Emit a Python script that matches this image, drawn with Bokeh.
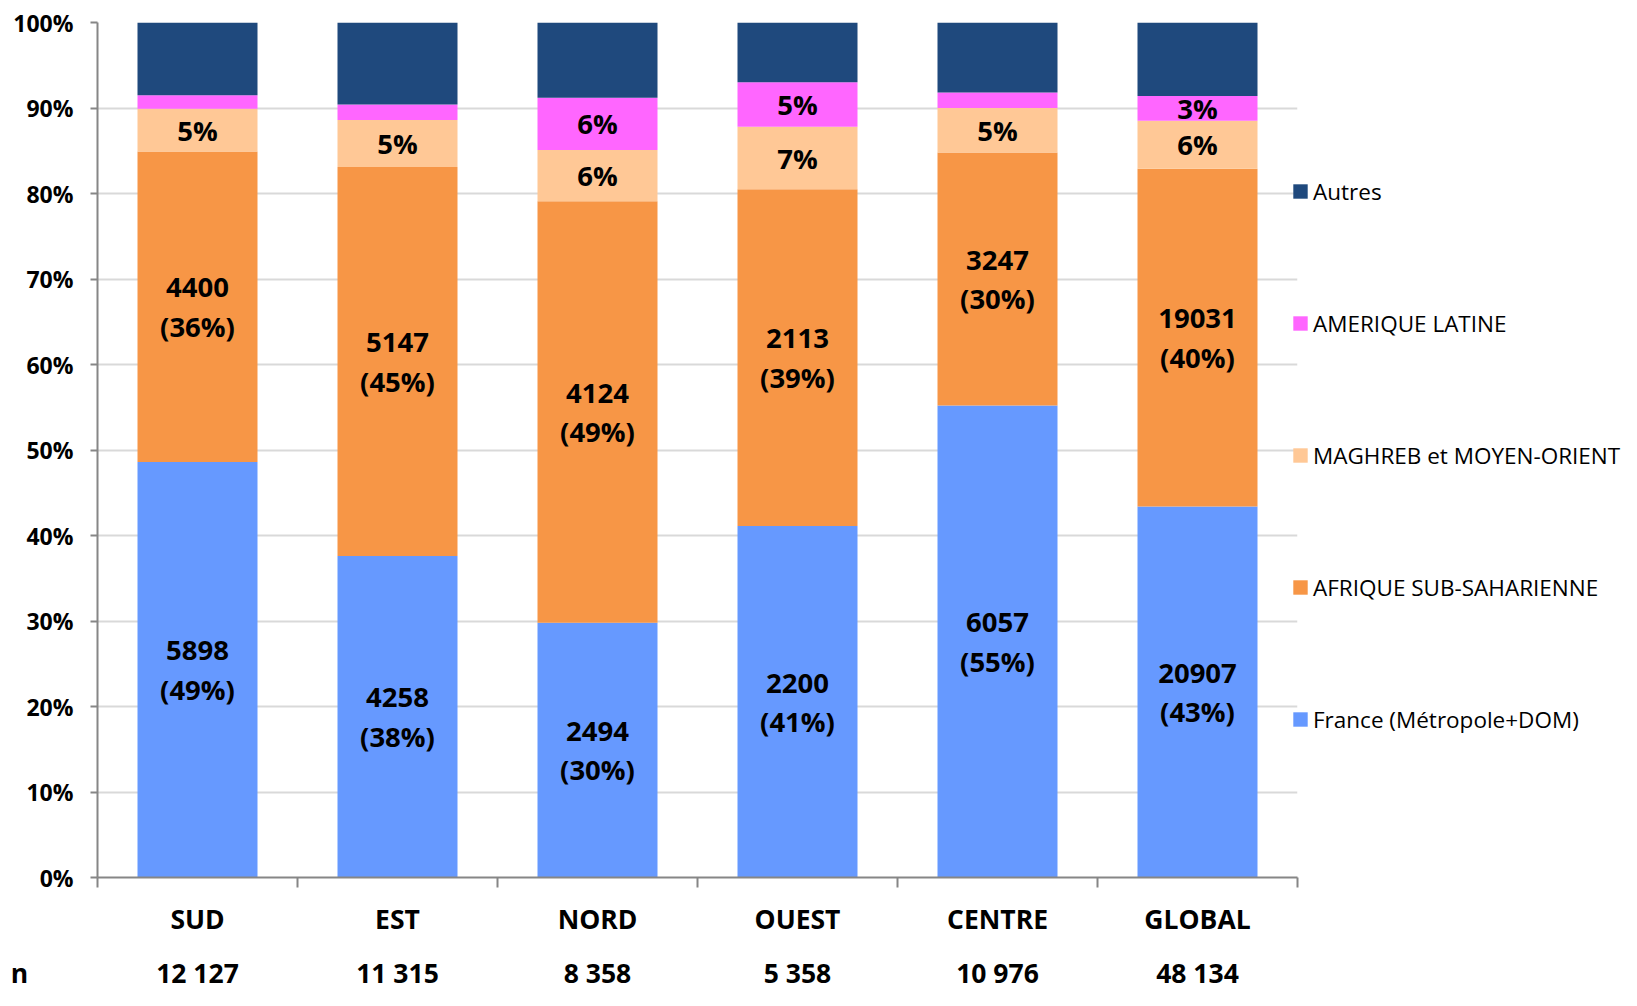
from bokeh.plotting import figure
from bokeh.models import (ColumnDataSource, Range1d, FixedTicker, LinearAxis,
                          Legend, LegendItem)
from bokeh.layouts import column
from bokeh.core.properties import value
from bokeh.embed import file_html
from bokeh.resources import INLINE
import numpy as np

# ---------------- data ----------------
categories = ["SUD", "EST", "NORD", "OUEST", "CENTRE", "GLOBAL"]
n_label = "n"
n_totals = ["12 127", "11 315", "8 358", "5 358", "10 976", "48 134"]

series_names = ["France (Métropole+DOM)", "AFRIQUE SUB-SAHARIENNE",
                "MAGHREB et MOYEN-ORIENT", "AMERIQUE LATINE", "Autres"]

france = [48.6, 37.6, 29.8, 41.1, 55.2, 43.4]
afrique = [36.3, 45.5, 49.3, 39.4, 29.6, 39.5]
maghreb = [5.0, 5.5, 6.0, 7.3, 5.2, 5.6]
amerique = [1.6, 1.8, 6.1, 5.2, 1.8, 2.9]
autres = [8.5, 9.6, 8.8, 7.0, 8.2, 8.6]

france_n = [5898, 4258, 2494, 2200, 6057, 20907]
afrique_n = [4400, 5147, 4124, 2113, 3247, 19031]
france_pct = [49, 38, 30, 41, 55, 43]
afrique_pct = [36, 45, 49, 39, 30, 40]
maghreb_lbl = ["5%", "5%", "6%", "7%", "5%", "6%"]
amerique_lbl = ["", "", "6%", "5%", "", "3%"]

colors = ["#6699FF", "#F79646", "#FFC896", "#FF66FF", "#1F497D"]
y_ticks = list(range(0, 101, 10))

# ---------------- layout constants ----------------
FONT = "Open Sans"
TOTAL_W = 1621
LEFT = 97
FRAME_W = 1200
TOP = 22
FRAME_H = 855
MAIN_BOTTOM = 70
STRIP_H = 990 - TOP - FRAME_H - MAIN_BOTTOM

ncat = len(categories)
unit_px = FRAME_W / ncat

p = figure(frame_width=FRAME_W, frame_height=FRAME_H,
           min_border_left=LEFT, min_border_top=TOP,
           min_border_bottom=MAIN_BOTTOM,
           min_border_right=TOTAL_W - LEFT - FRAME_W,
           x_range=Range1d(0, ncat), y_range=Range1d(0, 100),
           output_backend="svg", toolbar_location=None,
           x_axis_location=None, y_axis_location=None)
p.frame_align = False
p.outline_line_color = None
p.background_fill_color = "white"
p.border_fill_color = "white"

xs = [i + 0.5 for i in range(ncat)]
src = ColumnDataSource(dict(x=xs, s0=france, s1=afrique, s2=maghreb,
                            s3=amerique, s4=autres))
stack_keys = ["s0", "s1", "s2", "s3", "s4"]
renderers = p.vbar_stack(stack_keys, x="x", width=0.6, color=colors,
                         line_color=None, source=src)

# grid
p.xgrid.visible = False
p.ygrid.ticker = FixedTicker(ticks=y_ticks)
p.ygrid.grid_line_color = "#D9D9D9"
p.ygrid.grid_line_width = 2

# y axis
yax = LinearAxis(ticker=FixedTicker(ticks=y_ticks))
yax.major_label_overrides = {t: f"{t}%" for t in y_ticks}
yax.axis_line_color = "#868686"
yax.axis_line_width = 2
yax.major_tick_line_color = "#868686"
yax.major_tick_line_width = 2
yax.major_tick_out = 7
yax.major_tick_in = 0
yax.minor_tick_line_color = None
yax.major_label_standoff = 17
yax.major_label_text_font = FONT
yax.major_label_text_font_style = "bold"
yax.major_label_text_font_size = "23px"
yax.major_label_text_color = "black"
p.add_layout(yax, "left")

# x axis (ticks at category boundaries, labels at centers)
xax = LinearAxis(ticker=FixedTicker(ticks=xs,
                                    minor_ticks=list(range(ncat + 1))))
xax.major_label_overrides = {x: c for x, c in zip(xs, categories)}
xax.axis_line_color = "#868686"
xax.axis_line_width = 2
xax.major_tick_line_color = None
xax.major_tick_out = 0
xax.major_tick_in = 0
xax.minor_tick_line_color = "#868686"
xax.minor_tick_line_width = 2
xax.minor_tick_out = 10
xax.minor_tick_in = 0
xax.major_label_standoff = 13
xax.major_label_text_font = FONT
xax.major_label_text_font_style = "bold"
xax.major_label_text_font_size = "26.5px"
xax.major_label_text_color = "black"
p.add_layout(xax, "below")

# data labels
a = np.array([france, afrique, maghreb, amerique, autres])
cum = np.cumsum(a, axis=0)
mid = cum - a / 2.0
lbl_x, lbl_y, lbl_t = [], [], []
for i in range(ncat):
    lbl_x += [xs[i], xs[i], xs[i]]
    lbl_y += [mid[0][i], mid[1][i], mid[2][i]]
    lbl_t += [f"{france_n[i]}\n({france_pct[i]}%)",
              f"{afrique_n[i]}\n({afrique_pct[i]}%)",
              maghreb_lbl[i]]
    if amerique_lbl[i]:
        lbl_x.append(xs[i]); lbl_y.append(mid[3][i]); lbl_t.append(amerique_lbl[i])
p.text(x=lbl_x, y=lbl_y, text=lbl_t, text_align="center",
       text_baseline="middle", text_font=value(FONT), text_font_style="bold",
       text_font_size="27.5px", text_color="black", text_line_height=1.07)

# legend (reverse order) in right panel
items = [LegendItem(label=series_names[k], renderers=[renderers[k]])
         for k in range(len(series_names) - 1, -1, -1)]
legend = Legend(items=items, location=(-6, 142), orientation="vertical",
                glyph_width=18, glyph_height=18, label_height=32,
                spacing=100, padding=0, margin=0, label_standoff=4,
                border_line_color=None, background_fill_alpha=0,
                label_text_font=FONT, label_text_font_size="22.5px",
                label_text_color="black")
p.add_layout(legend, "right")

# strip with the "n" row
strip = figure(frame_width=TOTAL_W, frame_height=STRIP_H,
               min_border=0, min_border_left=0, min_border_right=0,
               min_border_top=0, min_border_bottom=0,
               x_range=Range1d(-LEFT / unit_px, (TOTAL_W - LEFT) / unit_px),
               y_range=Range1d(0, STRIP_H),
               output_backend="svg", toolbar_location=None,
               x_axis_location=None, y_axis_location=None)
strip.frame_align = False
strip.outline_line_color = None
strip.xgrid.visible = False
strip.ygrid.visible = False
strip.border_fill_color = "white"
strip.background_fill_color = "white"
n_x = [(19 - LEFT) / unit_px] + xs
n_t = [n_label] + n_totals
strip.text(x=n_x, y=[STRIP_H - 25] * len(n_x), text=n_t, text_align="center",
           text_baseline="middle", text_font=value(FONT),
           text_font_style="bold", text_font_size="26.5px",
           text_color="black")

layout = column(p, strip, spacing=0)
open("out.html", "w").write(file_html(layout, INLINE))
